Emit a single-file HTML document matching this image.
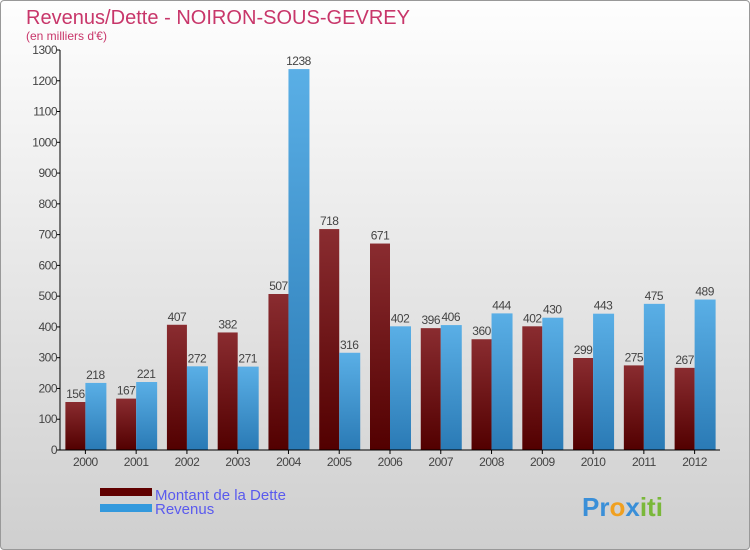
<!DOCTYPE html>
<html><head><meta charset="utf-8"><style>
body{margin:0}
#wrap{position:relative;width:748px;height:548px;border:1px solid #999;border-radius:4px;background:linear-gradient(#fefefe,#cfcfcf);overflow:hidden;font-family:"Liberation Sans","DejaVu Sans",sans-serif}
</style></head><body>
<div id="wrap">
<svg id="c" width="750" height="550" style="position:absolute;left:-1px;top:-1px">
<defs>
<linearGradient id="gd" x1="0" y1="0" x2="0" y2="1"><stop offset="0" stop-color="#8a2c30"/><stop offset="1" stop-color="#520000"/></linearGradient>
<linearGradient id="gr" x1="0" y1="0" x2="0" y2="1"><stop offset="0" stop-color="#5aafe6"/><stop offset="1" stop-color="#2a7ab5"/></linearGradient>
</defs>
<text x="26" y="24" font-size="20" fill="#c8366a" textLength="384">Revenus/Dette - NOIRON-SOUS-GEVREY</text>
<text x="26" y="40" font-size="12" fill="#c8366a">(en milliers d'€)</text>
<g id="g"></g>
<rect x="100" y="488" width="52" height="8" fill="#600000"/>
<text x="155" y="500" font-size="15" fill="#5a5aee">Montant de la Dette</text>
<rect x="100" y="504" width="52" height="8" fill="#3399dd"/>
<text x="155" y="514" font-size="15" fill="#5a5aee">Revenus</text>
<text x="582" y="516" font-size="26" font-weight="bold"><tspan fill="#3a8fd8">Pr</tspan><tspan fill="#f0a020">o</tspan><tspan fill="#3a8fd8">x</tspan><tspan fill="#7ab83a">iti</tspan></text>
</svg>
</div>
<script>
const categories=["2000","2001","2002","2003","2004","2005","2006","2007","2008","2009","2010","2011","2012"];
const dette=[156,167,407,382,507,718,671,396,360,402,299,275,267];
const revenus=[218,221,272,271,1238,316,402,406,444,430,443,475,489];
const ticks=[0,100,200,300,400,500,600,700,800,900,1000,1100,1200,1300];
const NS="http://www.w3.org/2000/svg",g=document.getElementById("g");
const x0=60,x1=720,yb=450,yt=50,maxV=1300;
const band=(x1-x0)/categories.length;
const y=v=>yb-(v/maxV)*(yb-yt);
const cx=i=>x0+(i+0.5)*band;
function el(t,a,txt){const e=document.createElementNS(NS,t);for(const k in a)e.setAttribute(k,a[k]);if(txt!=null)e.textContent=txt;g.appendChild(e);return e;}
ticks.forEach(t=>{
 const l=el("line",{x1:x0-4,x2:x0,y1:y(t),y2:y(t),stroke:"#000"});
 
 
 const tx=el("text",{x:x0-3,y:y(t)+4,"font-size":12,fill:"#444","text-anchor":"end","letter-spacing":"-0.5"},t);
 
 
});
categories.forEach((c,i)=>{
 const m=cx(i);
 const bd=el("rect",{x:m-20,y:y(dette[i]),width:20,height:yb-y(dette[i]),fill:"url(#gd)"});
 
 
 const br=el("rect",{x:m,y:y(revenus[i]),width:21,height:yb-y(revenus[i]),fill:"url(#gr)"});
 
 
 const ld=el("text",{x:m-10,y:y(dette[i])-4,"font-size":12,fill:"#444","text-anchor":"middle","letter-spacing":"-0.5"},dette[i]);
 
 
 const lr=el("text",{x:m+10,y:y(revenus[i])-4,"font-size":12,fill:"#444","text-anchor":"middle","letter-spacing":"-0.5"},revenus[i]);
 
 
 const tk=el("line",{x1:m,x2:m,y1:yb,y2:yb+4,stroke:"#000"});
 
 
 const xl=el("text",{x:m,y:yb+16,"font-size":12,fill:"#444","text-anchor":"middle","letter-spacing":"-0.5"},c);
 
 
});
const ya=el("line",{x1:x0,x2:x0,y1:yt,y2:yb,stroke:"#000"});


const xa=el("line",{x1:x0,x2:x1,y1:yb,y2:yb,stroke:"#000"});


</script>
</body></html>
